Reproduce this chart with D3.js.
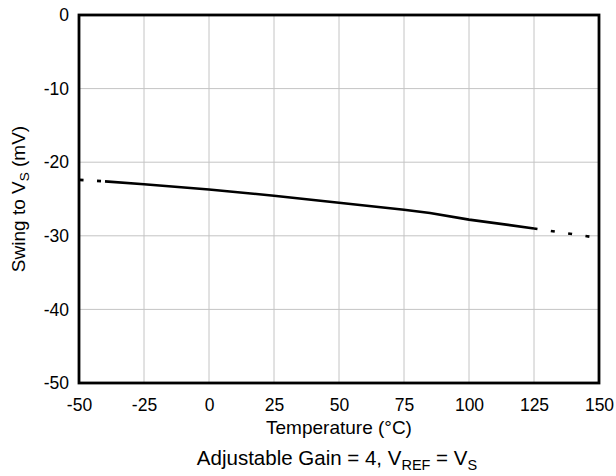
<!DOCTYPE html>
<html>
<head>
<meta charset="utf-8">
<script src="https://cdn.jsdelivr.net/npm/d3@7"></script>
<style>
  body { margin: 0; background: #fff; }
  svg { display: block; font-family: "Liberation Sans", Arial, sans-serif; }
</style>
</head>
<body>
<svg id="chart" width="616" height="476"></svg>
<script>
// ---- data ----
const xTicks = [-50, -25, 0, 25, 50, 75, 100, 125, 150];
const yTicks = [0, -10, -20, -30, -40, -50];
const temps = [-50, -40, -25, 0, 25, 50, 75, 85, 100, 125, 150];
const swing = [-22.4, -22.6, -23.0, -23.7, -24.55, -25.5, -26.45, -26.9, -27.8, -29.0, -30.3];
const solidMin = -40, solidMax = 125;

// ---- layout ----
const W = 616, H = 476;
const L = 79, R = 599, T = 15, B = 383;

const svg = d3.select("#chart");
const x = d3.scaleLinear().domain([-50, 150]).range([L, R]);
const y = d3.scaleLinear().domain([-50, 0]).range([B, T]);

const pts = temps.map((t, i) => ({ t, v: swing[i] }));

// grid
svg.append("g").selectAll("line").data(xTicks.slice(1, -1)).join("line")
  .attr("x1", d => x(d)).attr("x2", d => x(d))
  .attr("y1", T).attr("y2", B)
  .attr("stroke", "#c4c4c4").attr("stroke-width", 1);
svg.append("g").selectAll("line").data(yTicks.slice(1, -1)).join("line")
  .attr("y1", d => y(d)).attr("y2", d => y(d))
  .attr("x1", L).attr("x2", R)
  .attr("stroke", "#c4c4c4").attr("stroke-width", 1);

// axes labels via d3 axes
const fmt = d => String(d);
const xAxis = d3.axisBottom(x).tickValues(xTicks).tickFormat(fmt).tickSize(0).tickPadding(16);
const gx = svg.append("g").attr("transform", `translate(0,${B})`).call(xAxis);
gx.select(".domain").remove();
gx.selectAll("text").attr("font-size", 17.5).attr("fill", "#000")
  .attr("font-family", "Liberation Sans, Arial, sans-serif");

const yAxis = d3.axisLeft(y).tickValues(yTicks).tickFormat(fmt).tickSize(0).tickPadding(10);
const gy = svg.append("g").attr("transform", `translate(${L},0)`).call(yAxis);
gy.select(".domain").remove();
gy.selectAll("text").attr("font-size", 17.5).attr("fill", "#000")
  .attr("font-family", "Liberation Sans, Arial, sans-serif");

// line
const line = d3.line().x(d => x(d.t)).y(d => y(d.v));
const solid = pts.filter(d => d.t >= solidMin && d.t <= solidMax);
const leftDash = pts.filter(d => d.t <= solidMin).slice().reverse();
const rightDash = pts.filter(d => d.t >= solidMax);

svg.append("path").datum(solid).attr("d", line)
  .attr("fill", "none").attr("stroke", "#000").attr("stroke-width", 2.6);
svg.append("path").datum(leftDash).attr("d", line)
  .attr("fill", "none").attr("stroke", "#000").attr("stroke-width", 2.6)
  .attr("stroke-dasharray", "4,13.5").attr("stroke-dashoffset", 13.5);
svg.append("path").datum(rightDash).attr("d", line)
  .attr("fill", "none").attr("stroke", "#000").attr("stroke-width", 2.6)
  .attr("stroke-dasharray", "4,13.5").attr("stroke-dashoffset", 0.5);

// frame
svg.append("rect").attr("x", L).attr("y", T).attr("width", R - L).attr("height", B - T)
  .attr("fill", "none").attr("stroke", "#000").attr("stroke-width", 2.8);

// x title
svg.append("text").attr("x", (L + R) / 2).attr("y", 434)
  .attr("text-anchor", "middle").attr("font-size", 19).attr("fill", "#000")
  .text("Temperature (°C)");

// y title
const yt = svg.append("text")
  .attr("transform", `translate(25,${(T + B) / 2}) rotate(-90)`)
  .attr("text-anchor", "middle").attr("font-size", 19).attr("fill", "#000");
yt.append("tspan").text("Swing to V");
yt.append("tspan").attr("font-size", 13.5).attr("dy", 4).text("S");
yt.append("tspan").attr("dy", -4).text(" (mV)");

// caption
const cap = svg.append("text").attr("x", 337).attr("y", 465)
  .attr("text-anchor", "middle").attr("font-size", 20.5).attr("fill", "#000");
cap.append("tspan").text("Adjustable Gain = 4, V");
cap.append("tspan").attr("font-size", 14.5).attr("dy", 5).text("REF");
cap.append("tspan").attr("dy", -5).text(" = V");
cap.append("tspan").attr("font-size", 14.5).attr("dy", 5).text("S");
</script>
</body>
</html>
